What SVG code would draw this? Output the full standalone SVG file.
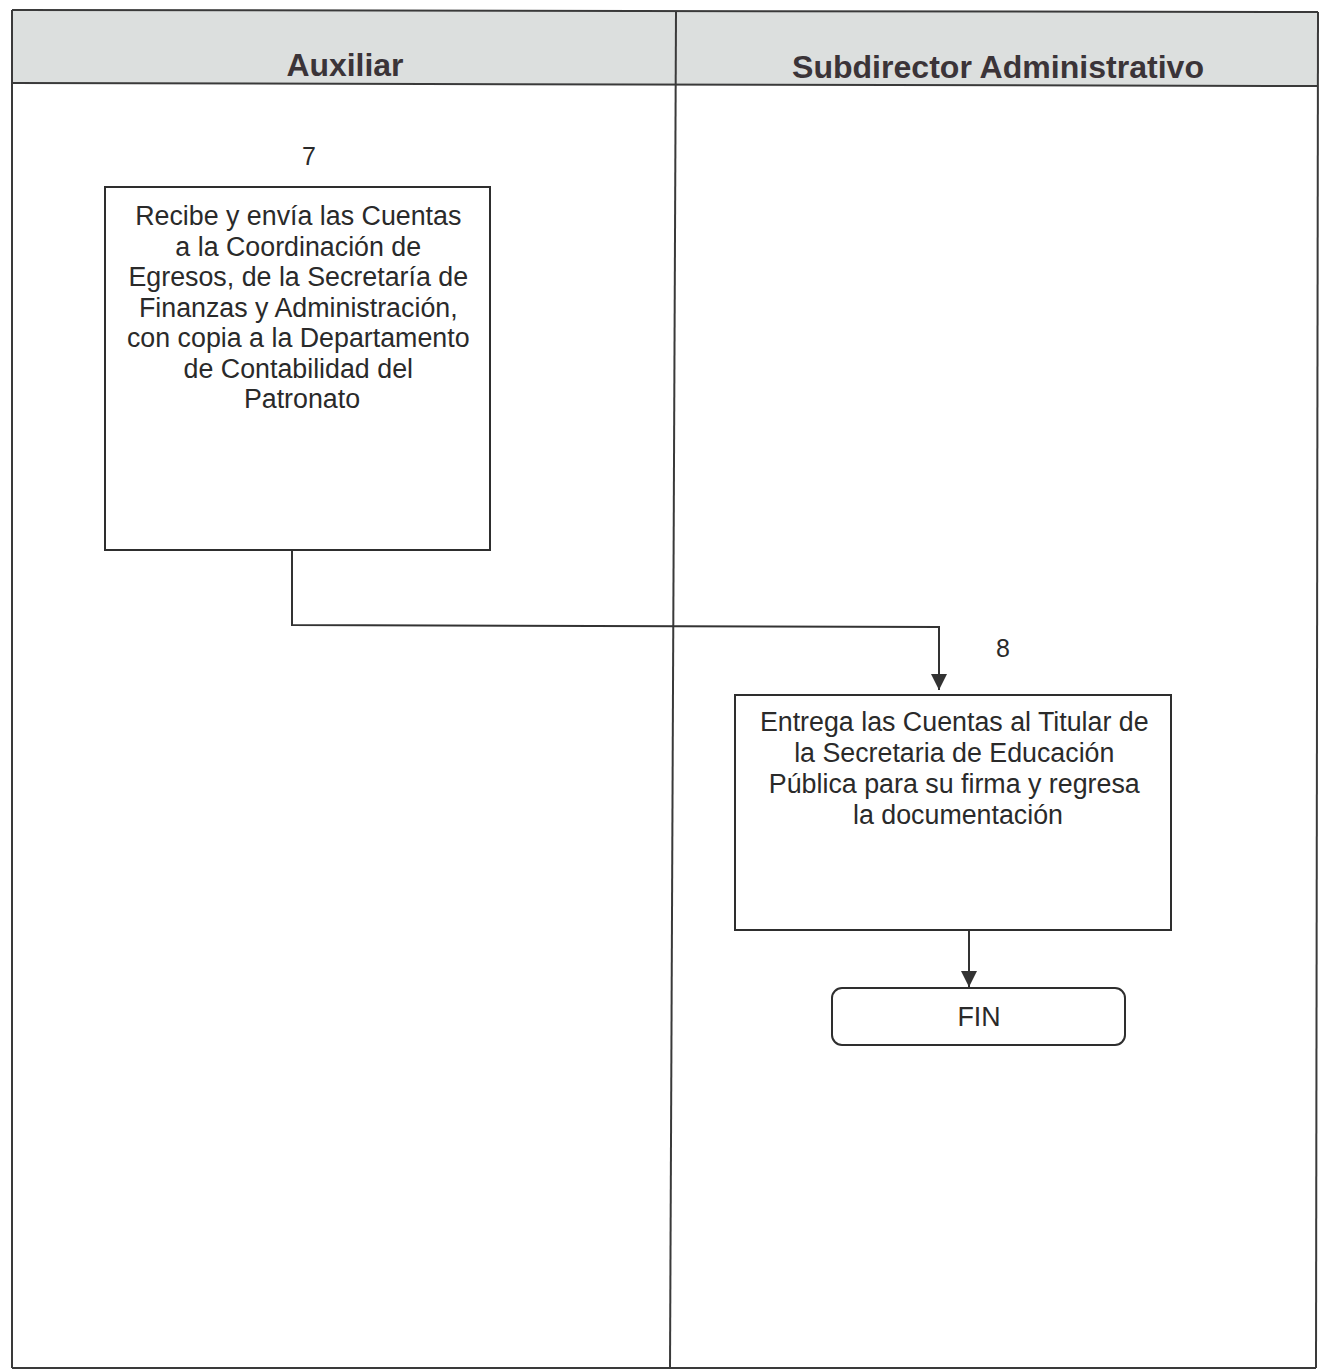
<svg xmlns="http://www.w3.org/2000/svg" width="1320" height="1372" viewBox="0 0 1320 1372">
  <style>
    .frame { fill: none; stroke: #3a3a3a; stroke-width: 2; }
    .box { fill: #ffffff; stroke: #2e2e2e; stroke-width: 2; }
    .lane-title { font-family: "Liberation Sans", Arial, sans-serif; font-weight: bold; font-size: 31px; fill: #3b3438; text-anchor: middle; }
    .label { font-family: "Liberation Sans", Arial, sans-serif; font-size: 26.8px; fill: #2a2a2a; text-anchor: middle; }
    .num { font-family: "Liberation Sans", Arial, sans-serif; font-size: 25px; fill: #2a2a2a; text-anchor: middle; }
    .conn { fill: none; stroke: #333333; stroke-width: 2; }
  </style>
  <defs>
    <marker id="tri" viewBox="0 0 16 16" refX="16" refY="8" markerWidth="16" markerHeight="16" markerUnits="userSpaceOnUse" orient="auto">
      <path d="M0,0 L16,8 L0,16 z" fill="#333333"/>
    </marker>
  </defs>

  <rect width="1320" height="1372" fill="#ffffff"/>

  <!-- swimlane frame -->
  <g id="lanes">
    <polygon points="12,10 1318,12 1318,86 12,83" fill="#dcdfde"/>
    <polyline class="frame" points="12,10 1318,12"/>
    <polyline class="frame" points="12,83 1318,86"/>
    <polyline class="frame" points="12,10 12,1368"/>
    <polyline class="frame" points="1318,12 1316,1368"/>
    <polyline class="frame" points="12,1368 1316,1368"/>
    <polyline class="frame" points="676,11 670,1368"/>
    <text class="lane-title" x="345" y="76" textLength="117" lengthAdjust="spacingAndGlyphs">Auxiliar</text>
    <text class="lane-title" x="998" y="78" textLength="412" lengthAdjust="spacingAndGlyphs">Subdirector Administrativo</text>
  </g>

  <!-- connectors -->
  <g id="connectors">
    <polyline class="conn" points="292,550 292,625 939,627 939,690" marker-end="url(#tri)"/>
    <polyline class="conn" points="969,930 969,987" marker-end="url(#tri)"/>
  </g>

  <!-- step 7 -->
  <g id="step7">
    <text class="num" x="309" y="165">7</text>
    <rect class="box" x="105" y="187" width="385" height="363"/>
    <text class="label">
      <tspan x="302" y="225">Recibe y envía las Cuentas</tspan>
      <tspan x="302" y="256">a la Coordinación de</tspan>
      <tspan x="302" y="286">Egresos, de la Secretaría de</tspan>
      <tspan x="302" y="317">Finanzas y Administración,</tspan>
      <tspan x="302" y="347">con copia a la Departamento</tspan>
      <tspan x="302" y="378">de Contabilidad del</tspan>
      <tspan x="302" y="408">Patronato</tspan>
    </text>
  </g>

  <!-- step 8 -->
  <g id="step8">
    <text class="num" x="1003" y="657">8</text>
    <rect class="box" x="735" y="695" width="436" height="235"/>
    <text class="label">
      <tspan x="958" y="731">Entrega las Cuentas al Titular de</tspan>
      <tspan x="958" y="762">la Secretaria de Educación</tspan>
      <tspan x="958" y="793">Pública para su firma y regresa</tspan>
      <tspan x="958" y="824">la documentación</tspan>
    </text>
  </g>

  <!-- end terminal -->
  <g id="fin">
    <rect class="box" x="832" y="988" width="293" height="57" rx="10" ry="10"/>
    <text class="label" x="979" y="1026">FIN</text>
  </g>
</svg>
